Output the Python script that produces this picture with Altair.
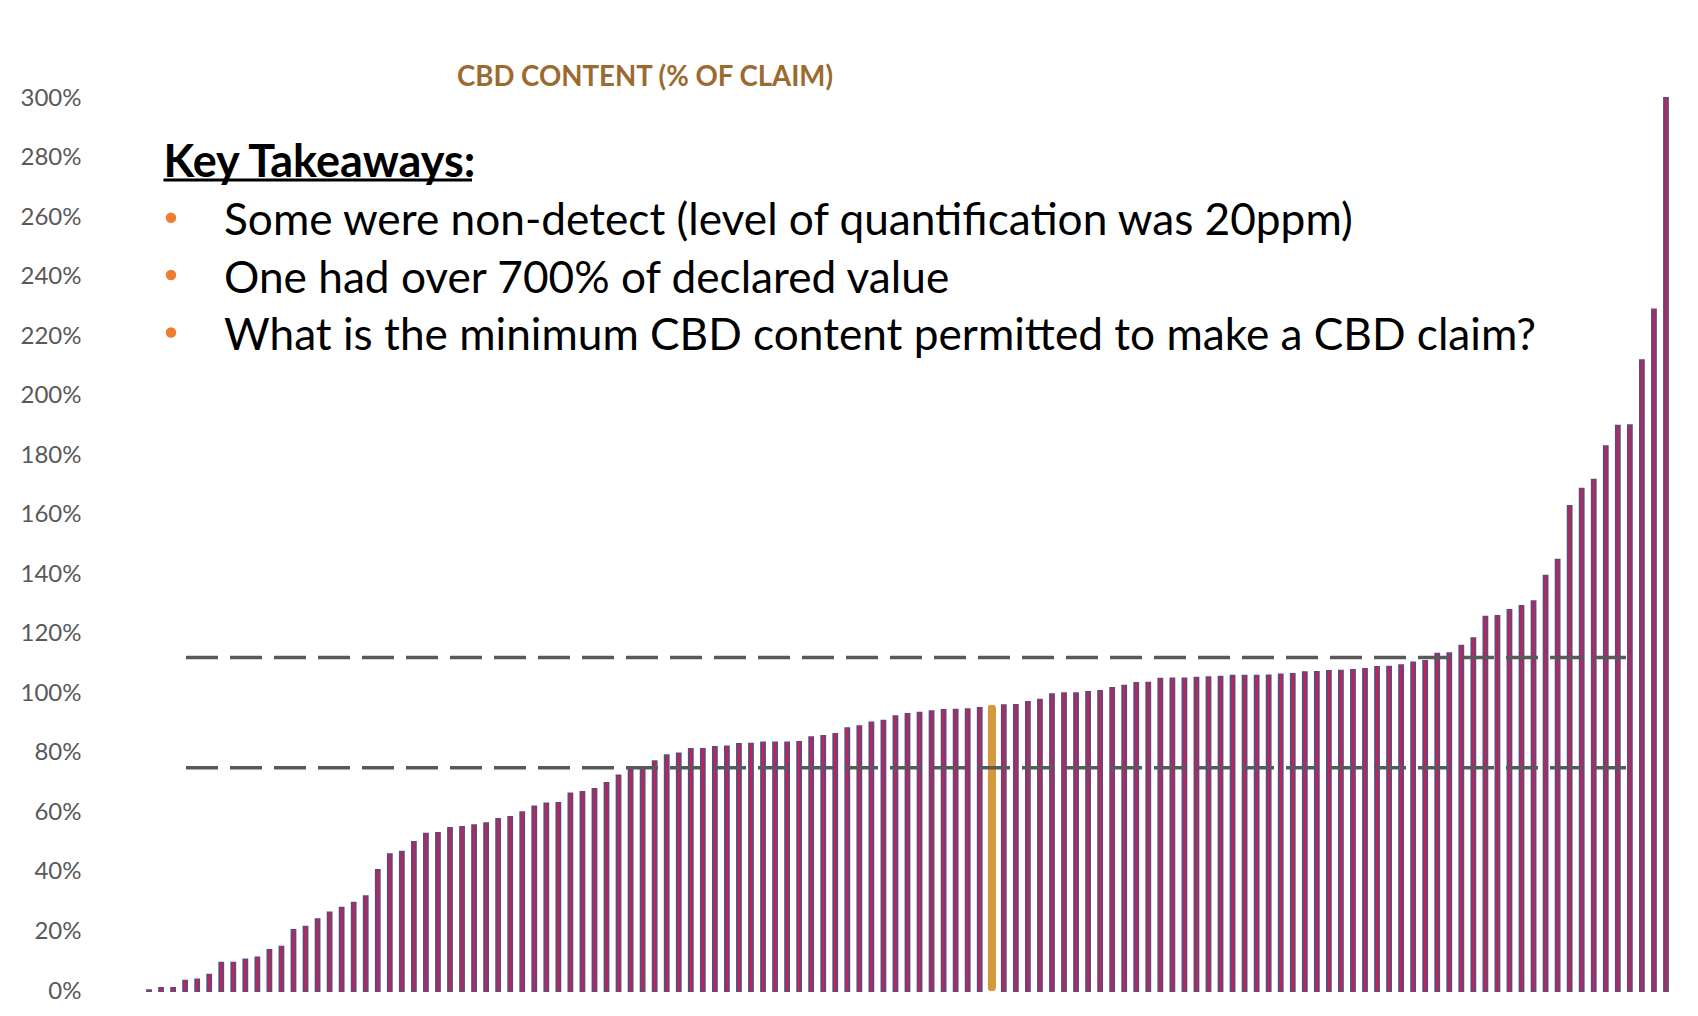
import altair as alt
import pandas as pd

# CBD content as % of label claim, sorted ascending (one bar per product)
values = [
    0.3, 1.0, 1.0, 3.5, 3.9, 5.5, 9.5, 9.5, 10.6, 11.3,
    13.8, 14.9, 20.5, 21.6, 24.1, 26.4, 28.0, 29.7, 31.9, 40.7,
    46.0, 46.8, 50.1, 52.9, 53.1, 54.8, 55.1, 55.7, 56.4, 57.8,
    58.5, 60.1, 62.0, 63.0, 63.2, 66.4, 66.9, 67.9, 69.9, 72.4,
    74.9, 74.9, 77.2, 79.2, 79.8, 81.3, 81.3, 82.0, 82.2, 83.0,
    83.1, 83.5, 83.5, 83.5, 83.7, 85.3, 85.7, 86.4, 88.3, 89.0,
    90.2, 90.8, 92.3, 93.1, 93.5, 94.0, 94.4, 94.5, 94.7, 95.1,
    96.1, 96.0, 96.1, 97.1, 97.9, 99.7, 100.1, 100.1, 100.5, 100.8,
    101.8, 102.6, 103.5, 103.6, 104.9, 105.0, 105.0, 105.3, 105.4, 105.6,
    105.9, 105.9, 105.9, 106.0, 106.4, 106.5, 107.1, 107.2, 107.5, 107.6,
    107.9, 108.2, 108.9, 109.0, 109.5, 110.4, 110.9, 113.3, 113.5, 116.0,
    118.5, 125.8, 126.0, 128.0, 129.4, 131.0, 139.5, 144.9, 163.0, 168.8,
    171.8, 183.0, 189.9, 190.1, 211.9, 229.0, 300.0,
]
highlight_index = 71          # the gold bar
ref_levels = [75, 112]        # dashed reference lines (% of claim)
ref_start = 4.07              # category position where the dashed lines start
ref_end = 123.76              # category position where they end
y_ticks = list(range(0, 301, 20))

title_text = "CBD CONTENT (% OF CLAIM)"
heading_text = "Key Takeaways:"
takeaways = [
    "Some were non-detect (level of quantification was 20ppm)",
    "One had over 700% of declared value",
    "What is the minimum CBD content permitted to make a CBD claim?",
]

df = pd.DataFrame({"idx": list(range(1, len(values) + 1)), "pct": values})
df["hl"] = df["idx"] == highlight_index
ref_df = pd.DataFrame({"level": ref_levels, "start": [ref_start] * len(ref_levels),
                       "end": [ref_end] * len(ref_levels)})

FONT = "Lato"
x_scale = alt.Scale(domain=[0.5, len(values) + 0.5], nice=False, zero=False, padding=0)
y_scale = alt.Scale(domain=[0, 300], nice=False)
y_axis = alt.Axis(values=y_ticks, labelExpr="datum.value + '%'", grid=False, domain=False,
                  ticks=False, labelPadding=62, labelFont=FONT, labelFontSize=24,
                  labelColor="#595959", title=None)

X = alt.X("idx:Q", scale=x_scale, axis=None)
Y = alt.Y("pct:Q", scale=y_scale, axis=y_axis)

base = alt.Chart(df)
purple = base.transform_filter("!datum.hl").mark_bar(
    width=4.0, color="#5E4A80", stroke="#5E4A80", strokeWidth=1.8
).encode(x=X, y=Y)
red = base.transform_filter("!datum.hl").mark_bar(width=1.8, color="#D81B4B").encode(x=X, y=Y)
gold = base.transform_filter("datum.hl").mark_bar(
    width=8.5, color="#D29A3D", cornerRadius=3
).encode(x=X, y=Y)

rules = alt.Chart(ref_df).mark_rule(color="#595959", strokeWidth=3.5, strokeDash=[32, 12]).encode(
    x=alt.X("start:Q", scale=x_scale, axis=None),
    x2="end:Q",
    y=alt.Y("level:Q", scale=y_scale, axis=y_axis),
)

title = alt.Chart(pd.DataFrame({"t": [title_text]})).mark_text(
    font=FONT, fontSize=27.6, fontWeight="bold", color="#9B6A2F", align="center", baseline="alphabetic"
).encode(text="t:N", x=alt.value(502), y=alt.value(-12.5))

heading = alt.Chart(pd.DataFrame({"t": [heading_text]})).mark_text(
    font=FONT, fontSize=45, fontWeight="bold", color="#000000", align="left", baseline="alphabetic"
).encode(text="t:N", x=alt.value(20.5), y=alt.value(78.5))

underline = alt.Chart(pd.DataFrame({"t": [heading_text]})).mark_rule(
    color="#000000", strokeWidth=3
).encode(x=alt.value(20.5), x2=alt.value(329), y=alt.value(82))

line_y = [137, 194.5, 252]
bullet_y = [119.7, 177, 234.5]
lines = []
for txt, ly, by in zip(takeaways, line_y, bullet_y):
    lines.append(
        alt.Chart(pd.DataFrame({"t": [txt]})).mark_text(
            font=FONT, fontSize=44.2, color="#000000", align="left", baseline="alphabetic"
        ).encode(text="t:N", x=alt.value(81), y=alt.value(ly))
    )
    lines.append(
        alt.Chart(pd.DataFrame({"t": [txt]})).mark_circle(
            color="#ED7D31", opacity=1, size=110
        ).encode(x=alt.value(28), y=alt.value(by))
    )

chart = alt.layer(purple, red, gold, rules, title, heading, underline, *lines).properties(
    width=1529,
    height=893,
    autosize=alt.AutoSizeParams(type="none"),
    padding={"left": 135, "top": 90, "right": 10, "bottom": 20},
    background="white",
).configure_view(stroke=None)

chart.save("out.html", embed_options={"renderer": "svg", "actions": False})
